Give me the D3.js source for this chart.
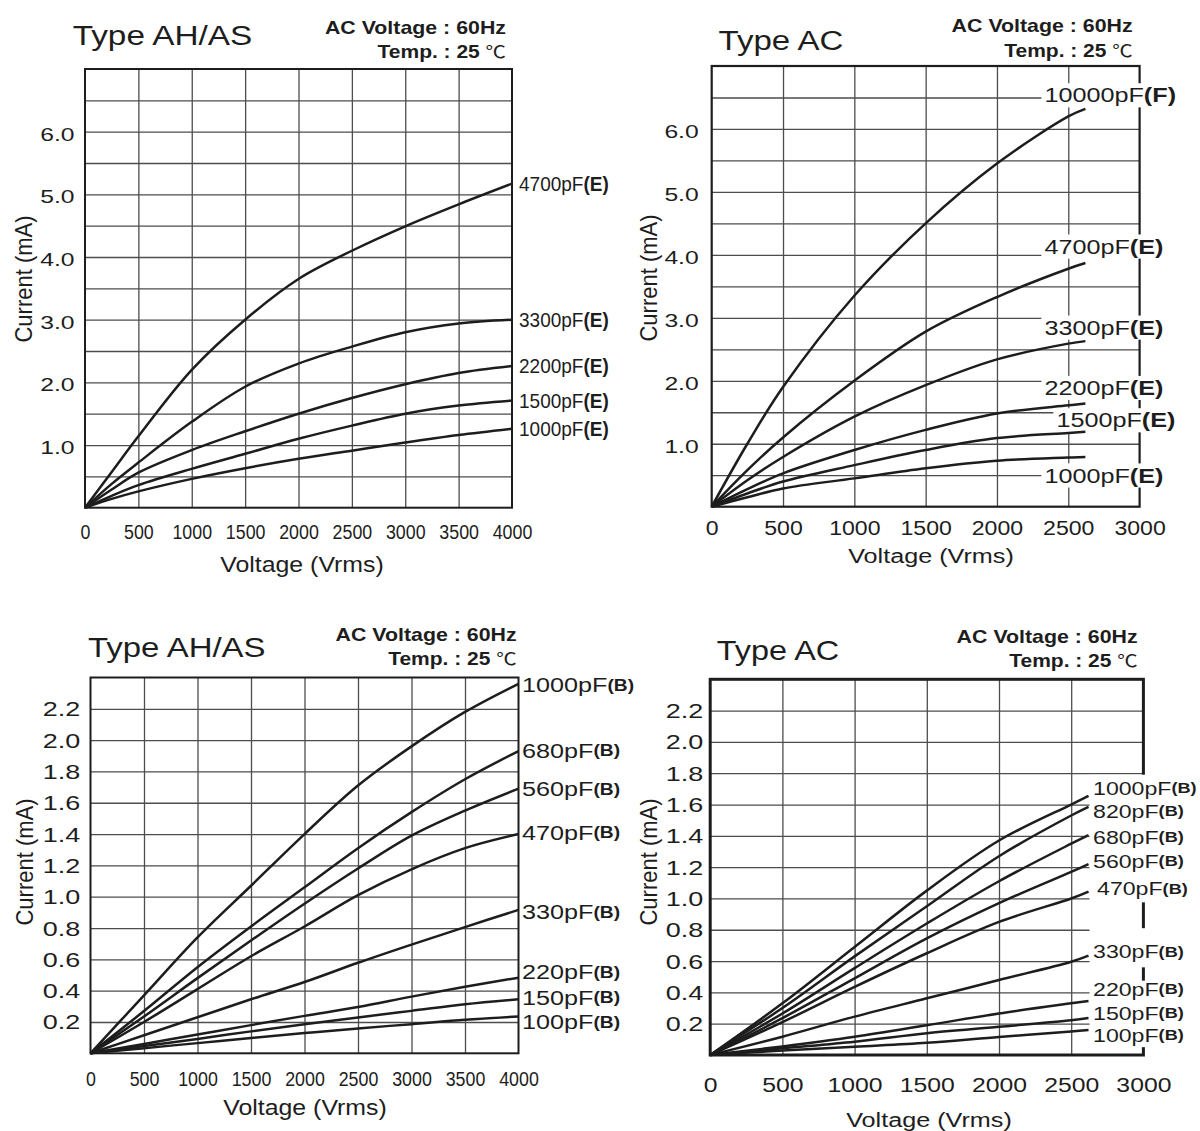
<!DOCTYPE html>
<html><head><meta charset="utf-8">
<script src="https://cdn.jsdelivr.net/npm/d3@7"></script>
<style>body{margin:0;background:#fff}</style>
</head><body>
<script>
// ---------------- DATA ----------------
const titlesAH = "Type AH/AS";
const titlesAC = "Type AC";
const condLine1 = "AC Voltage : 60Hz";
const condLine2 = "Temp. : 25 ";
const condUnit = "\u2103";
const xTitle = "Voltage (Vrms)";
const yTitle = "Current (mA)";

const xTicks4000 = [0, 500, 1000, 1500, 2000, 2500, 3000, 3500, 4000];
const xTicks3000 = [0, 500, 1000, 1500, 2000, 2500, 3000];
const yTicksHigh = [1, 2, 3, 4, 5, 6];
const yTicksLow = [0.2, 0.4, 0.6, 0.8, 1.0, 1.2, 1.4, 1.6, 1.8, 2.0, 2.2];

// Panel 1: Type AH/AS, class E
const ahVoltsE = [0, 250, 500, 1000, 1500, 2000, 2500, 3000, 3500, 4000];
const ahE4700 = [0, 0.57, 1.14, 2.2, 3.0, 3.65, 4.1, 4.49, 4.84, 5.17];
const ahE3300 = [0, 0.38, 0.72, 1.37, 1.93, 2.3, 2.57, 2.8, 2.94, 3.0];
const ahE2200 = [0, 0.29, 0.56, 0.92, 1.22, 1.5, 1.75, 1.97, 2.15, 2.26];
const ahE1500 = [0, 0.19, 0.36, 0.62, 0.86, 1.1, 1.31, 1.5, 1.63, 1.71];
const ahE1000 = [0, 0.14, 0.26, 0.46, 0.63, 0.78, 0.91, 1.04, 1.16, 1.26];
const ahENames = ["4700pF", "3300pF", "2200pF", "1500pF", "1000pF"];
const ahECodes = ["E", "E", "E", "E", "E"];

// Panel 2: Type AC, class E/F
const acVoltsE = [0, 250, 500, 1000, 1500, 2000, 2500, 2620];
const acE10000 = [0, 1.0, 1.9, 3.35, 4.5, 5.45, 6.2, 6.32];
const acE4700 = [0, 0.58, 1.1, 2.0, 2.78, 3.33, 3.78, 3.87];
const acE3300 = [0, 0.42, 0.79, 1.43, 1.93, 2.34, 2.59, 2.63];
const acE2200 = [0, 0.28, 0.53, 0.9, 1.22, 1.48, 1.61, 1.64];
const acE1500 = [0, 0.21, 0.4, 0.66, 0.9, 1.09, 1.17, 1.19];
const acE1000 = [0, 0.15, 0.29, 0.45, 0.61, 0.73, 0.78, 0.79];
const acENames = ["10000pF", "4700pF", "3300pF", "2200pF", "1500pF", "1000pF"];
const acECodes = ["F", "E", "E", "E", "E", "E"];

// Panel 3: Type AH/AS, class B
const ahVoltsB = [0, 500, 1000, 1500, 2000, 2500, 3000, 3500, 4000];
const ahB1000 = [0, 0.37, 0.74, 1.07, 1.40, 1.71, 1.96, 2.18, 2.36];
const ahB680 = [0, 0.27, 0.55, 0.81, 1.06, 1.31, 1.54, 1.75, 1.93];
const ahB560 = [0, 0.235, 0.48, 0.72, 0.955, 1.18, 1.39, 1.55, 1.69];
const ahB470 = [0, 0.2, 0.41, 0.62, 0.81, 1.01, 1.175, 1.31, 1.40];
const ahB330 = [0, 0.115, 0.23, 0.345, 0.455, 0.578, 0.694, 0.806, 0.916];
const ahB220 = [0, 0.06, 0.12, 0.18, 0.239, 0.296, 0.362, 0.425, 0.483];
const ahB150 = [0, 0.046, 0.092, 0.14, 0.186, 0.229, 0.271, 0.313, 0.345];
const ahB100 = [0, 0.033, 0.065, 0.098, 0.129, 0.159, 0.186, 0.214, 0.235];
const ahBNames = ["1000pF", "680pF", "560pF", "470pF", "330pF", "220pF", "150pF", "100pF"];
const ahBCodes = ["B", "B", "B", "B", "B", "B", "B", "B"];

// Panel 4: Type AC, class B
const acVoltsB = [0, 500, 1000, 1500, 2000, 2500, 2620];
const acB1000 = [0, 0.33, 0.69, 1.05, 1.37, 1.6, 1.655];
const acB820 = [0, 0.3, 0.63, 0.95, 1.27, 1.53, 1.585];
const acB680 = [0, 0.265, 0.555, 0.84, 1.11, 1.35, 1.405];
const acB560 = [0, 0.235, 0.49, 0.745, 0.97, 1.17, 1.22];
const acB470 = [0, 0.21, 0.435, 0.65, 0.85, 1.0, 1.044];
const acB330 = [0, 0.117, 0.245, 0.362, 0.479, 0.596, 0.635];
const acB220 = [0, 0.055, 0.117, 0.19, 0.265, 0.33, 0.345];
const acB150 = [0, 0.043, 0.085, 0.139, 0.18, 0.222, 0.236];
const acB100 = [0, 0.028, 0.053, 0.078, 0.115, 0.15, 0.16];
const acBNames = ["1000pF", "820pF", "680pF", "560pF", "470pF", "330pF", "220pF", "150pF", "100pF"];
const acBCodes = ["B", "B", "B", "B", "B", "B", "B", "B", "B"];

// ---------------- DRAWING ----------------
const FONT = "'Liberation Sans', Arial, Helvetica, sans-serif";
const CJK = "'Noto Sans CJK SC', 'DejaVu Sans', sans-serif";
const INK = "#1d1d1d", GRID = "#4d4d4d";

const svg = d3.select("body").append("svg").attr("width", 1200).attr("height", 1131);
svg.append("rect").attr("width", 1200).attr("height", 1131).attr("fill", "#fff");

function txt(g, x, y, parts, o) {
  const tr = `translate(${x},${y})` + (o.rot ? " rotate(-90)" : "") + ` scale(${o.sx || 1},${o.sy || 1})`;
  const t = g.append("text").attr("transform", tr)
    .attr("font-family", o.family || FONT).attr("font-size", o.size)
    .attr("font-weight", o.weight || 400).attr("text-anchor", o.anchor || "start")
    .attr("fill", INK);
  if (typeof parts === "string") t.text(parts);
  else parts.forEach(p => {
    const s = t.append("tspan").text(p.t);
    if (p.w) s.attr("font-weight", p.w);
    if (p.size) s.attr("font-size", p.size);
    if (p.family) s.attr("font-family", p.family);
    if (p.dy) s.attr("dy", p.dy);
  });
  return t;
}

function drawPanel(c) {
  const g = svg.append("g");
  const gGrid = g.append("g"), gBg = g.append("g"), gCurve = g.append("g"), gText = g.append("g");
  const x = d3.scaleLinear().domain([0, c.xMax]).range([c.left, c.right]);
  const y = d3.scaleLinear().domain([0, c.yMax]).range([c.bottom, c.top]);
  const nx = Math.round(c.xMax / c.xStep), ny = Math.round(c.yMax / c.yStep);
  const gx = d3.range(1, nx).map(i => i * c.xStep);
  const gy = d3.range(1, ny).map(i => +(i * c.yStep).toFixed(4));

  gGrid.append("g").attr("transform", `translate(0,${c.bottom})`)
    .call(d3.axisBottom(x).tickValues(gx).tickSize(-(c.bottom - c.top)).tickFormat(""))
    .call(a => a.select(".domain").remove())
    .selectAll("line").attr("stroke", GRID).attr("stroke-width", 1.3);
  gGrid.append("g").attr("transform", `translate(${c.left},0)`)
    .call(d3.axisLeft(y).tickValues(gy).tickSize(-(c.right - c.left)).tickFormat(""))
    .call(a => a.select(".domain").remove())
    .selectAll("line").attr("stroke", GRID).attr("stroke-width", 1.3);
  gGrid.append("rect").attr("x", c.left).attr("y", c.top)
    .attr("width", c.right - c.left).attr("height", c.bottom - c.top)
    .attr("fill", "none").attr("stroke", INK).attr("stroke-width", c.border);

  if (c.cover) c.cover(gBg, x, y);

  // tick labels (axes)
  const ax = gText.append("g").attr("transform", `translate(0,${c.xTick.y})`)
    .call(d3.axisBottom(x).tickValues(c.xTicks).tickSize(0).tickPadding(0).tickFormat(d3.format("d")));
  ax.select(".domain").remove();
  ax.attr("font-family", FONT).attr("font-size", c.xTick.size);
  ax.selectAll("text").attr("y", 0).attr("dy", 0).attr("fill", INK)
    .attr("transform", `scale(${c.xTick.sx},1)`);

  const ay = gText.append("g").attr("transform", `translate(${c.yTick.x},0)`)
    .call(d3.axisLeft(y).tickValues(c.yTicks).tickSize(0).tickPadding(0).tickFormat(d3.format(".1f")));
  ay.select(".domain").remove();
  ay.attr("font-family", FONT).attr("font-size", c.yTick.size);
  ay.selectAll("text").attr("x", 0).attr("dy", c.yTick.dy).attr("fill", INK)
    .attr("transform", `scale(${c.yTick.sx},1)`);

  // curves
  const line = d3.line().x(d => x(d[0])).y(d => y(d[1])).curve(d3.curveCatmullRom.alpha(0.5));
  c.series.forEach(s => {
    gCurve.append("path").datum(c.volts.map((v, i) => [v, s[i]]))
      .attr("d", line).attr("fill", "none").attr("stroke", INK)
      .attr("stroke-width", 2.5).attr("stroke-linejoin", "round");
  });

  // curve labels
  const vEnd = c.volts[c.volts.length - 1];
  c.names.forEach((nm, i) => {
    const s = c.series[i];
    const L = c.label;
    const lx = x(vEnd) + L.dx + (L.dxs ? L.dxs[i] : 0);
    const cy = y(s[s.length - 1]) + L.offs[i];
    const by = cy + 0.36 * L.size;
    const t = txt(gText, lx, by,
      [{ t: nm }, { t: "(" + c.codes[i] + ")", w: 700, size: L.codeSize, dy: L.codeDy }],
      { size: L.size, sx: L.sx });
    if (c.labelBg) {
      const bb = t.node().getBBox();
      gBg.append("rect").attr("x", lx + bb.x * L.sx - 3).attr("y", by - 0.72 * L.size - 4)
        .attr("width", bb.width * L.sx + 6).attr("height", 0.72 * L.size + 9).attr("fill", "#fff");
    }
  });

  // titles
  txt(gText, c.title.x, c.title.y, c.title.text, { size: c.title.size, sx: c.title.sx });
  txt(gText, c.cond.x, c.cond.y1, condLine1, { size: 17.5, weight: 700, sx: 1.22, anchor: "end" });
  txt(gText, c.cond.x, c.cond.y2, [{ t: condLine2 }, { t: condUnit, w: 400, family: CJK, size: 17 }],
    { size: 17.5, weight: 700, sx: 1.2, anchor: "end" });
  txt(gText, c.xTitle.x, c.xTitle.y, xTitle, { size: c.xTitle.size, sx: c.xTitle.sx, anchor: "middle" });
  txt(gText, c.yTitle.x, c.yTitle.y, yTitle, { size: 20, sx: 1.1, sy: 1.2, rot: true, anchor: "middle" });
}

drawPanel({
  left: 85, right: 512, top: 69, bottom: 507.7, xMax: 4000, yMax: 7, xStep: 500, yStep: 0.5,
  volts: ahVoltsE, series: [ahE4700, ahE3300, ahE2200, ahE1500, ahE1000], names: ahENames, codes: ahECodes,
  xTicks: xTicks4000, yTicks: yTicksHigh,
  xTick: { y: 539, size: 20, sx: 0.89 }, yTick: { x: 74.6, size: 19, sx: 1.3, dy: 8.5 },
  title: { x: 72.7, y: 45, size: 28, sx: 1.19, text: titlesAH },
  cond: { x: 506, y1: 34, y2: 58 },
  xTitle: { x: 302, y: 572, size: 22, sx: 1.13 }, yTitle: { x: 32, y: 279 },
  border: 2,
  label: { dx: 7, size: 20, sx: 0.95, codeSize: 20, codeDy: 0, offs: [0, 0, 0, 0, 0] }
});

drawPanel({
  left: 711.7, right: 1139.6, top: 66, bottom: 506.7, xMax: 3000, yMax: 7, xStep: 500, yStep: 0.5,
  volts: acVoltsE, series: [acE10000, acE4700, acE3300, acE2200, acE1500, acE1000], names: acENames, codes: acECodes,
  xTicks: xTicks3000, yTicks: yTicksHigh,
  xTick: { y: 535, size: 21, sx: 1.1 }, yTick: { x: 698.7, size: 19, sx: 1.3, dy: 8.3 },
  title: { x: 718.6, y: 50, size: 28, sx: 1.18, text: titlesAC },
  cond: { x: 1132.7, y1: 32.3, y2: 56.7 },
  xTitle: { x: 931, y: 563, size: 21, sx: 1.2 }, yTitle: { x: 657, y: 278 },
  border: 2.2, labelBg: true,
  label: { dx: -41, dxs: [0, 0, 0, 0, 12, 0], size: 21, sx: 1.2, codeSize: 21, codeDy: 0,
    offs: [-14, -17, -14, -16, -12, 18] }
});

drawPanel({
  left: 90.5, right: 518.5, top: 677.5, bottom: 1053.3, xMax: 4000, yMax: 2.4, xStep: 500, yStep: 0.2,
  volts: ahVoltsB, series: [ahB1000, ahB680, ahB560, ahB470, ahB330, ahB220, ahB150, ahB100], names: ahBNames, codes: ahBCodes,
  xTicks: xTicks4000, yTicks: yTicksLow,
  xTick: { y: 1086, size: 20, sx: 0.89 }, yTick: { x: 80.4, size: 20, sx: 1.35, dy: 7 },
  title: { x: 88, y: 657, size: 27, sx: 1.22, text: titlesAH },
  cond: { x: 516.6, y1: 640.7, y2: 665 },
  xTitle: { x: 305, y: 1115, size: 22, sx: 1.13 }, yTitle: { x: 33, y: 862 },
  border: 2,
  label: { dx: 3.5, size: 21, sx: 1.2, codeSize: 16, codeDy: -1.5, offs: [1, -1, 0, -2, 2, -6, -2, 5] }
});

drawPanel({
  left: 710.2, right: 1143.4, top: 679.3, bottom: 1055, xMax: 3000, yMax: 2.4, xStep: 500, yStep: 0.2,
  volts: acVoltsB, series: [acB1000, acB820, acB680, acB560, acB470, acB330, acB220, acB150, acB100], names: acBNames, codes: acBCodes,
  xTicks: xTicks3000, yTicks: yTicksLow,
  xTick: { y: 1091.7, size: 21, sx: 1.18 }, yTick: { x: 703.3, size: 20, sx: 1.35, dy: 7 },
  title: { x: 716.7, y: 660, size: 27, sx: 1.2, text: titlesAC },
  cond: { x: 1137.7, y1: 643.3, y2: 666.7 },
  xTitle: { x: 929, y: 1127, size: 21, sx: 1.2 }, yTitle: { x: 657, y: 862 },
  border: 3,
  cover: (g, x, y) => {
    const x0 = x(2620) + 1;
    g.append("rect").attr("x", x0).attr("y", y(1.8) + 1.5).attr("width", 1200 - x0)
      .attr("height", y(0.05) - y(1.8) - 1.5).attr("fill", "#fff");
    [[0.81, 0.975], [0.475, 0.56]].forEach(r => {
      g.append("line").attr("x1", x(3000)).attr("x2", x(3000)).attr("y1", y(r[0])).attr("y2", y(r[1]))
        .attr("stroke", INK).attr("stroke-width", 3);
    });
  },
  label: { dx: 4.5, dxs: [0, 0, 0, 0, 4, 0, 0, 0, 0], size: 18.5, sx: 1.25, codeSize: 14.5, codeDy: -1.5,
    offs: [-8, 4, 2, -3, -3, -4, -12, -5, 5] }
});
</script>
</body></html>
